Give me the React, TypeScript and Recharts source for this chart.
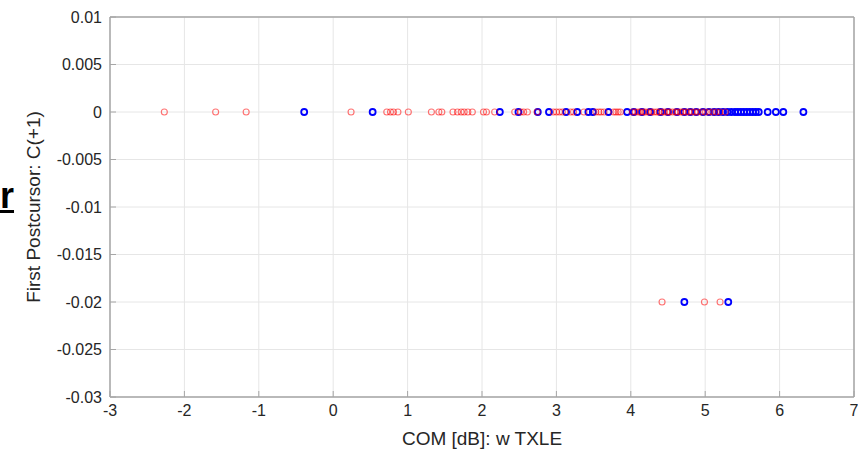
import React from "react";
import {
  CartesianGrid,
  ReferenceLine,
  Scatter,
  ScatterChart,
  XAxis,
  YAxis,
} from "recharts";

// x values (COM dB) of points sitting at C(+1) = 0
const redAtZero = [
  -2.27, -1.58, -1.17, 0.24, 0.72, 0.77, 0.81, 0.87, 1.01, 1.32, 1.42, 1.46,
  1.61, 1.67, 1.72, 1.76, 1.81, 1.87, 2.02, 2.06, 2.17, 2.44, 2.52, 2.56, 2.61,
  2.74, 2.96, 3.0, 3.04, 3.08, 3.19, 3.23, 3.37, 3.53, 3.57, 3.6, 3.64, 3.77,
  3.8, 3.83, 3.86, 4.02, 4.06, 4.1, 4.13, 4.17, 4.2, 4.24, 4.28, 4.31, 4.35,
  4.38, 4.42, 4.45, 4.49, 4.52, 4.56, 4.6, 4.63, 4.67, 4.7, 4.74, 4.78, 4.82,
  4.86, 4.9, 4.95, 5.0, 5.05, 5.1, 5.15, 5.2, 5.27,
];
const blueAtZero = [
  -0.39, 0.53, 2.24, 2.49, 2.75, 2.9, 3.13, 3.28, 3.43, 3.49, 3.7, 3.95, 4.04,
  4.15, 4.26, 4.4, 4.5, 4.62, 4.72, 4.8, 4.88, 4.97, 5.05, 5.12, 5.18, 5.24,
  5.3, 5.35, 5.4, 5.44, 5.48, 5.52, 5.56, 5.6, 5.64, 5.68, 5.72, 5.84, 5.95,
  6.05, 6.32,
];
// points at C(+1) = -0.02
const redAtMinus2 = [4.42, 4.99, 5.2];
const blueAtMinus2 = [4.72, 5.31];

const xTicks = [-3, -2, -1, 0, 1, 2, 3, 4, 5, 6, 7];
const yTicks = [0.01, 0.005, 0, -0.005, -0.01, -0.015, -0.02, -0.025, -0.03];

const FONT = "'Liberation Sans', Arial, sans-serif";
const TEXT = "#262626";
const AXIS = "#a6a6a6";

const toPoints = (xs: number[], y: number) => xs.map((x) => ({ x, y }));

const redData = [...toPoints(redAtZero, 0), ...toPoints(redAtMinus2, -0.02)];
const blueData = [...toPoints(blueAtZero, 0), ...toPoints(blueAtMinus2, -0.02)];

const fmtY = (v: number) => (v === 0 ? "0" : String(v));

const YTick = (props: any) => {
  const { x, y, payload, tickMargin } = props;
  const ax = x + (tickMargin ?? 8);
  return (
    <g>
      <line x1={ax} x2={ax + 6} y1={y} y2={y} stroke={AXIS} />
      <text x={x} y={y} dy="0.355em" textAnchor="end" fill={TEXT} fontSize={16} fontFamily={FONT}>
        {fmtY(payload.value)}
      </text>
    </g>
  );
};

const XTick = (props: any) => {
  const { x, y, payload, tickMargin } = props;
  const ay = y - (tickMargin ?? 7);
  return (
    <g>
      <line x1={x} x2={x} y1={ay} y2={ay - 6} stroke={AXIS} />
      <text x={x} y={y} dy="0.72em" textAnchor="middle" fill={TEXT} fontSize={16} fontFamily={FONT}>
        {payload.value}
      </text>
    </g>
  );
};

const RedDot = (p: any) => (
  <circle cx={p.cx} cy={p.cy} r={3} fill="none" stroke="#ff0000" strokeOpacity={0.55} strokeWidth={1.1} />
);
const BlueDot = (p: any) => (
  <circle cx={p.cx} cy={p.cy} r={3} fill="none" stroke="#0000ff" strokeWidth={1.8} />
);

export default function App() {
  return (
    <div style={{ position: "absolute", left: 0, top: 0, width: 858, height: 455, background: "#fff" }}>
      <div
        style={{
          position: "absolute",
          left: 0,
          top: 176,
          fontFamily: FONT,
          fontWeight: "bold",
          fontSize: 36,
          lineHeight: "40px",
          textDecoration: "underline",
          color: "#000",
        }}
      >
        r
      </div>
      <ScatterChart width={858} height={455} margin={{ top: 17, right: 4, left: 0, bottom: 0 }}>
        <CartesianGrid stroke="#e6e6e6" />
        <XAxis
          type="number"
          dataKey="x"
          domain={[-3, 7]}
          ticks={xTicks}
          interval={0}
          height={58}
          tickSize={0}
          tickMargin={7}
          tick={<XTick />}
          axisLine={{ stroke: AXIS, strokeWidth: 1.5 }}
          label={{
            content: (lp: any) => {
              const vb = lp.viewBox;
              return (
                <text x={vb.x + vb.width / 2} y={vb.y + 48} textAnchor="middle" fill={TEXT} fontSize={19} fontFamily={FONT}>
                  COM [dB]: w TXLE
                </text>
              );
            },
          }}
        />
        <YAxis
          type="number"
          dataKey="y"
          domain={[-0.03, 0.01]}
          ticks={yTicks}
          interval={0}
          width={110}
          tickSize={0}
          tickMargin={8}
          tick={<YTick />}
          axisLine={{ stroke: AXIS, strokeWidth: 1.5 }}
          label={{
            content: (lp: any) => {
              const vb = lp.viewBox;
              const cx = vb.x + 40;
              const cy = vb.y + vb.height / 2;
              return (
                <text
                  x={cx}
                  y={cy}
                  textAnchor="middle"
                  transform={`rotate(-90 ${cx} ${cy})`}
                  fill={TEXT}
                  fontSize={19}
                  fontFamily={FONT}
                >
                  First Postcursor: C(+1)
                </text>
              );
            },
          }}
        />
        <ReferenceLine y={0.01} stroke={AXIS} strokeWidth={1.5} />
        <ReferenceLine x={7} stroke={AXIS} strokeWidth={1.5} />
        <Scatter data={blueData} shape={<BlueDot />} isAnimationActive={false} />
        <Scatter data={redData} shape={<RedDot />} isAnimationActive={false} />
      </ScatterChart>
    </div>
  );
}
